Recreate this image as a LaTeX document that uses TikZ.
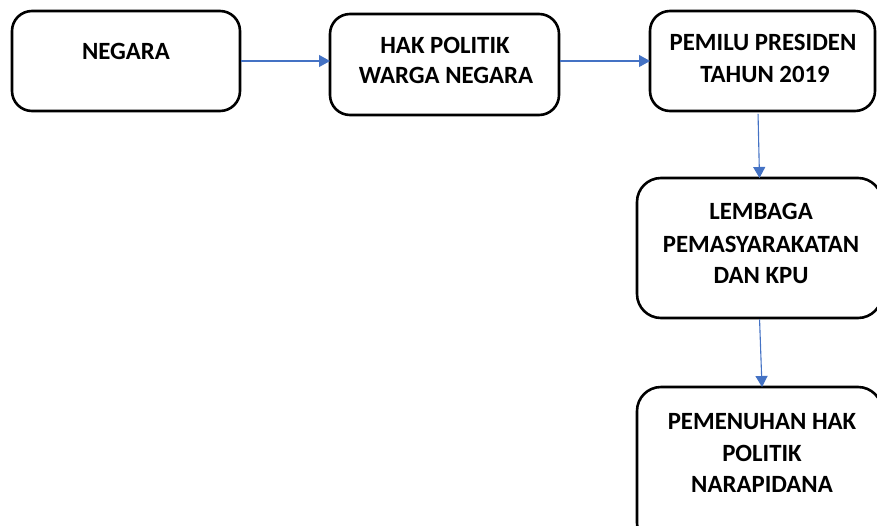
\documentclass[tikz,border=0pt]{standalone}
\usepackage{fontspec}
\setmainfont{Carlito}
\usetikzlibrary{arrows.meta}
\definecolor{arr}{RGB}{68,114,196}
\begin{document}
\begin{tikzpicture}[x=1pt,y=-1pt,
 box/.style={draw=black,line width=2.6pt,rounded corners=20pt,inner sep=0pt,outer sep=0pt,anchor=north west},
 lbl/.style={font=\fontsize{24.8}{31}\selectfont\bfseries,anchor=base,inner sep=0pt},
 conn/.style={draw=arr,line width=1.1pt,shorten <=1.3pt,-{Triangle[length=11pt,width=12pt]}}]
\useasboundingbox (0,0) rectangle (877,525);
\clip (0,0) rectangle (877,525);
\node[box,minimum width=228pt,minimum height=100pt] (b1) at (12,11) {};
\node[box,minimum width=229pt,minimum height=101pt] (b2) at (330,14) {};
\node[box,minimum width=225pt,minimum height=100pt] (b3) at (650,11) {};
\node[box,minimum width=245pt,minimum height=140pt,rounded corners=24pt] (b4) at (637,178) {};
\node[box,minimum width=245pt,minimum height=160pt,rounded corners=24pt] (b5) at (637,387) {};
\node[lbl] (t1) at (126,59) {NEGARA};
\node[lbl] (t2a) at (445,53) {HAK POLITIK};
\node[lbl] (t2b) at (446,83) {WARGA NEGARA};
\node[lbl] (t3a) at (763,50) {PEMILU PRESIDEN};
\node[lbl] (t3b) at (765,82) {TAHUN 2019};
\node[lbl] (t4a) at (761,219) {LEMBAGA};
\node[lbl] (t4b) at (761,252) {PEMASYARAKATAN};
\node[lbl] (t4c) at (761,283) {DAN KPU};
\node[lbl] (t5a) at (762,429) {PEMENUHAN HAK};
\node[lbl] (t5b) at (762,461) {POLITIK};
\node[lbl] (t5c) at (762,492) {NARAPIDANA};
\coordinate (c1) at (758,112.5);
\coordinate (c2) at (762,387);
\draw[conn] (b1.east) -- (b1.east -| b2.west);
\draw[conn] (b2.east |- b3.west) -- (b3.west);
\draw[conn] (c1) -- (b4.north);
\draw[conn] (b4.south) -- (c2);
\end{tikzpicture}
\end{document}
